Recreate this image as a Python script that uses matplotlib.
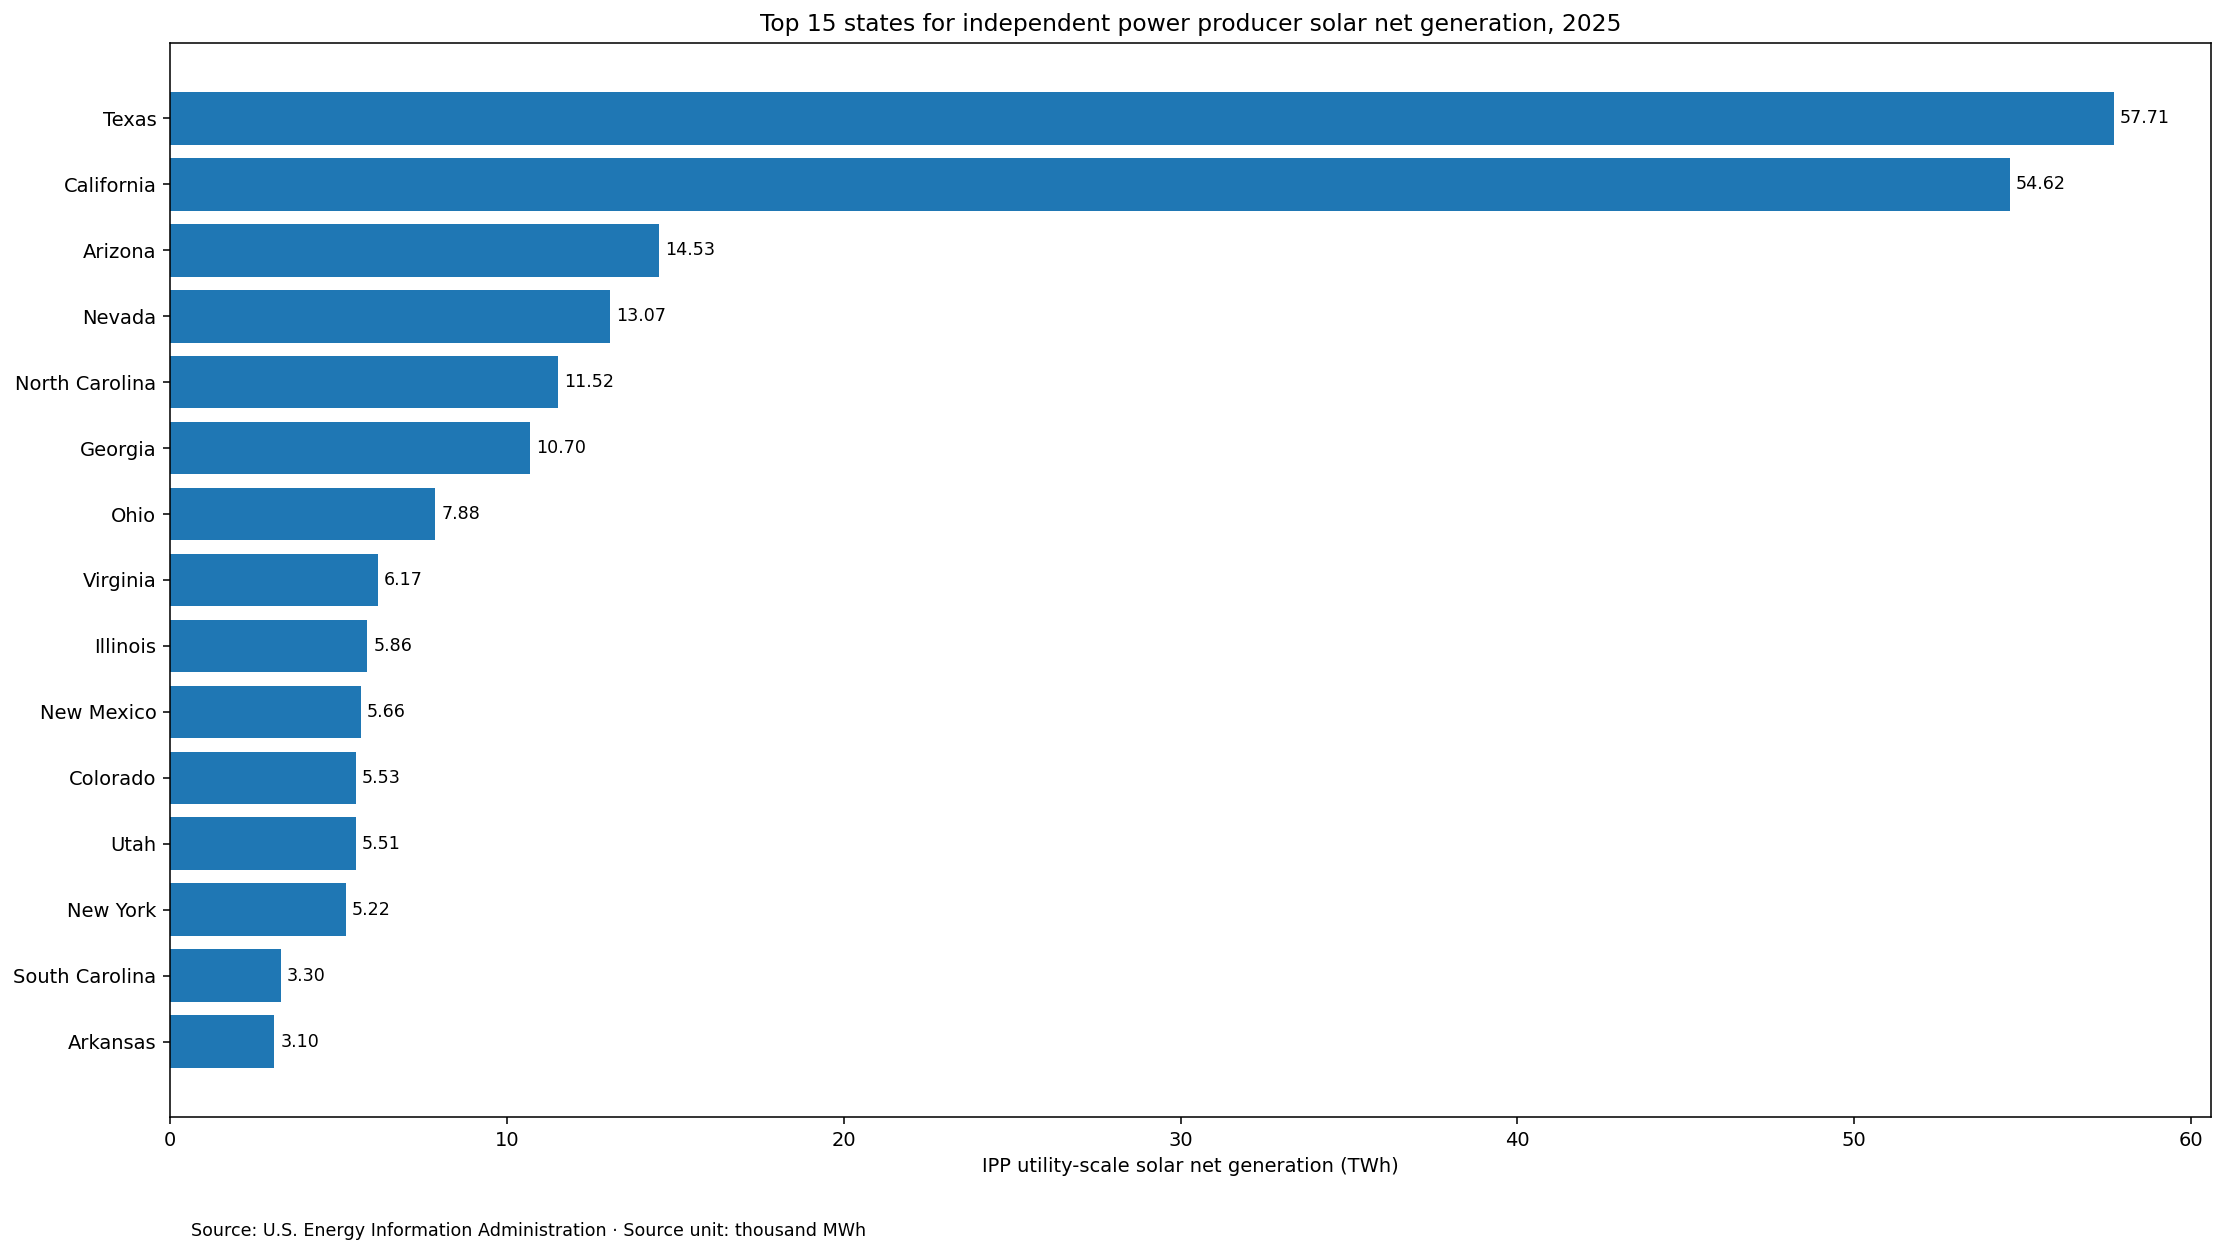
import matplotlib.pyplot as plt

# Dane: stany i produkcja (TWh)
stany = ["Texas", "California", "Arizona", "Nevada", "North Carolina", "Georgia",
         "Ohio", "Virginia", "Illinois", "New Mexico", "Colorado", "Utah",
         "New York", "South Carolina", "Arkansas"]
wartosci = [57.71, 54.62, 14.53, 13.07, 11.52, 10.70, 7.88, 6.17, 5.86, 5.66,
            5.53, 5.51, 5.22, 3.30, 3.10]

fig, ax = plt.subplots(figsize=(2226 / 140, 1255 / 140), dpi=140)
fig.subplots_adjust(left=0.0764, right=0.9933, top=0.9657, bottom=0.11)

# odwracamy kolejność, żeby Texas był na górze
slupki = ax.barh(stany[::-1], wartosci[::-1], color='#1f77b4')
ax.bar_label(slupki, labels=[f"{v:.2f}" for v in wartosci[::-1]], padding=3, fontsize=9)

ax.set_xlim(0, max(wartosci) * 1.05)
ax.set_title("Top 15 states for independent power producer solar net generation, 2025", fontsize=12)
ax.set_xlabel("IPP utility-scale solar net generation (TWh)")

fig.text(0.086, 0.019, "Source: U.S. Energy Information Administration · Source unit: thousand MWh",
         fontsize=9, va='center', ha='left')

plt.savefig("out.png", dpi=140)
plt.close()
